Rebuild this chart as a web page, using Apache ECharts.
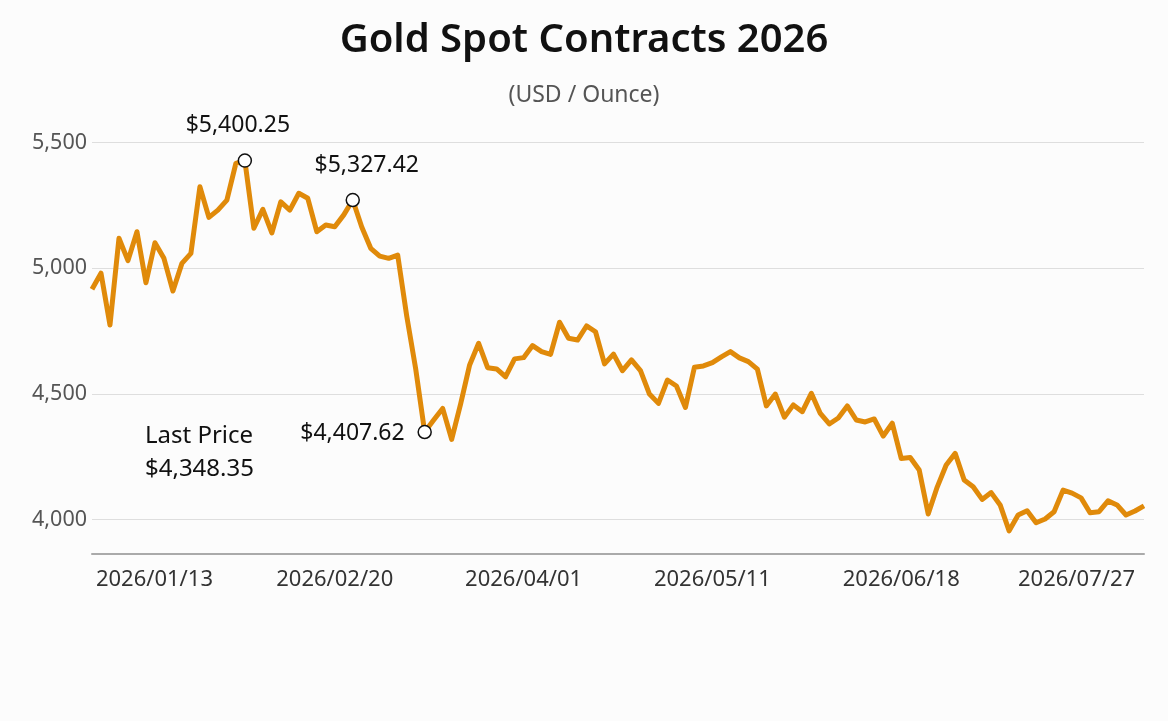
<!DOCTYPE html>
<html>
<head>
<meta charset="utf-8">
<title>Gold Spot Contracts 2026</title>
<script src="https://cdn.jsdelivr.net/npm/echarts@6.0.0/dist/echarts.min.js"></script>
<style>
  html, body { margin: 0; padding: 0; background: #fcfcfc; }
  #container-gold { width: 1168px; height: 721px; }
</style>
</head>
<body>
<div id="container-gold"></div>
<script>
// trading dates (category axis)
const dates = [
  '2026/01/02', '2026/01/04', '2026/01/06', '2026/01/07', '2026/01/09', '2026/01/11', '2026/01/13',
  '2026/01/15', '2026/01/17', '2026/01/18', '2026/01/20', '2026/01/22', '2026/01/24', '2026/01/25',
  '2026/01/27', '2026/01/29', '2026/01/31', '2026/02/01', '2026/02/03', '2026/02/05', '2026/02/07',
  '2026/02/08', '2026/02/10', '2026/02/12', '2026/02/14', '2026/02/16', '2026/02/18', '2026/02/20',
  '2026/02/22', '2026/02/24', '2026/02/26', '2026/02/28', '2026/03/01', '2026/03/03', '2026/03/05',
  '2026/03/07', '2026/03/09', '2026/03/11', '2026/03/13', '2026/03/15', '2026/03/17', '2026/03/18',
  '2026/03/20', '2026/03/22', '2026/03/24', '2026/03/26', '2026/03/28', '2026/03/30', '2026/04/01',
  '2026/04/03', '2026/04/05', '2026/04/07', '2026/04/09', '2026/04/10', '2026/04/12', '2026/04/14',
  '2026/04/16', '2026/04/18', '2026/04/20', '2026/04/22', '2026/04/24', '2026/04/26', '2026/04/28',
  '2026/04/29', '2026/05/01', '2026/05/03', '2026/05/05', '2026/05/07', '2026/05/09', '2026/05/11',
  '2026/05/13', '2026/05/14', '2026/05/16', '2026/05/18', '2026/05/20', '2026/05/22', '2026/05/23',
  '2026/05/25', '2026/05/27', '2026/05/29', '2026/05/31', '2026/06/01', '2026/06/03', '2026/06/05',
  '2026/06/07', '2026/06/08', '2026/06/10', '2026/06/12', '2026/06/14', '2026/06/16', '2026/06/18',
  '2026/06/20', '2026/06/22', '2026/06/23', '2026/06/25', '2026/06/27', '2026/06/29', '2026/07/01',
  '2026/07/02', '2026/07/04', '2026/07/06', '2026/07/08', '2026/07/10', '2026/07/12', '2026/07/13',
  '2026/07/15', '2026/07/17', '2026/07/19', '2026/07/21', '2026/07/23', '2026/07/25', '2026/07/27',
  '2026/07/29', '2026/07/31', '2026/08/02', '2026/08/03', '2026/08/05', '2026/08/07'
];

// spot price, USD / ounce
const prices = [
  4916, 4980, 4774, 5119, 5030, 5145, 4942, 5101, 5039, 4909,
  5019, 5059, 5324, 5202, 5231, 5271, 5417, 5428, 5159, 5234,
  5140, 5264, 5231, 5298, 5278, 5145, 5172, 5165, 5212, 5271,
  5164, 5079, 5048, 5039, 5052, 4810, 4599, 4348, 4396, 4442,
  4319, 4460, 4615, 4701, 4604, 4599, 4568, 4639, 4644, 4692,
  4668, 4657, 4785, 4721, 4714, 4770, 4747, 4619, 4658, 4592,
  4635, 4592, 4499, 4462, 4555, 4531, 4446, 4606, 4611, 4624,
  4647, 4668, 4643, 4628, 4598, 4452, 4499, 4407, 4456, 4429,
  4502, 4422, 4380, 4404, 4452, 4396, 4388, 4400, 4332, 4383,
  4243, 4247, 4197, 4022, 4129, 4217, 4263, 4157, 4130, 4080,
  4107, 4058, 3955, 4018, 4035, 3987, 4002, 4031, 4117, 4105,
  4086, 4027, 4031, 4074, 4058, 4018, 4034, 4054
];

// dates that get an axis label
const tickDates = ['2026/01/13', '2026/02/20', '2026/04/01', '2026/05/11', '2026/06/18', '2026/07/27'];

// annotated points
const noteIndex = [17, 29, 37];
const noteText = ['$5,400.25', '$5,327.42', '$4,407.62'];
const noteOffset = [[-7, -35], [14, -35], [-20, 1]];
const noteAlign = ['center', 'center', 'right'];

const lastPriceText = 'Last Price\n$4,348.35';

const FONT = 'Noto Sans';

let chartDom = document.getElementById('container-gold');
let myChart = echarts.init(chartDom, null, { renderer: 'canvas' });
let option;

option = {
  backgroundColor: '#fcfcfc',
  animation: false,
  textStyle: { fontFamily: FONT },
  title: [
    {
      text: 'Gold Spot Contracts 2026',
      left: 'center',
      top: 16,
      textStyle: { fontFamily: FONT, fontSize: 40, fontWeight: 600, color: '#111' }
    },
    {
      text: '(USD / Ounce)',
      left: 'center',
      top: 79,
      textStyle: { fontFamily: FONT, fontSize: 23, fontWeight: 'normal', color: '#555' }
    }
  ],
  grid: {
    left: 92,
    right: 24,
    top: 142.5,
    bottom: 201.5,
    containLabel: false,
    outerBoundsMode: 'none'
  },
  xAxis: {
    type: 'category',
    boundaryGap: false,
    data: dates,
    offset: 34,
    axisLine: { lineStyle: { color: '#aaaaaa', width: 2 } },
    axisTick: { show: false },
    splitLine: { show: false },
    axisLabel: {
      interval: (idx, value) => tickDates.includes(value),
      hideOverlap: false,
      margin: 15,
      fontFamily: FONT,
      fontSize: 22,
      color: '#333',
      // first and last labels are nudged inwards, as in the source chart
      formatter: (value) => {
        if (value === tickDates[0]) return '{first|' + value + '}';
        if (value === tickDates[tickDates.length - 1]) return '{last|' + value + '}';
        return value;
      },
      rich: {
        first: { fontFamily: FONT, fontSize: 22, color: '#333', padding: [0, 0, 0, 17] },
        last: { fontFamily: FONT, fontSize: 22, color: '#333', padding: [0, 27, 0, 0] }
      }
    }
  },
  yAxis: {
    type: 'value',
    min: 4000,
    max: 5500,
    interval: 500,
    axisLine: { show: false },
    axisTick: { show: false },
    splitLine: { lineStyle: { color: '#dedede', width: 1 } },
    axisLabel: {
      margin: 5,
      padding: [10, 0, 0, 0],
      fontFamily: FONT,
      fontSize: 21.5,
      color: '#555',
      formatter: (v) => v.toLocaleString('en-US')
    }
  },
  graphic: [
    {
      type: 'text',
      left: 145,
      top: 420,
      style: {
        text: lastPriceText,
        font: '24px "Noto Sans"',
        lineHeight: 33,
        fill: '#111'
      }
    }
  ],
  series: [
    {
      name: 'Gold Spot',
      type: 'line',
      data: prices,
      clip: false,
      showSymbol: false,
      color: '#e08a0a',
      lineStyle: { width: 5, color: '#e08a0a', join: 'round' },
      markPoint: {
        symbol: 'circle',
        symbolSize: 13,
        itemStyle: { color: '#ffffff', borderColor: '#111', borderWidth: 1.5 },
        data: noteIndex.map((idx, k) => ({
          coord: [idx, prices[idx]],
          label: {
            show: true,
            position: 'inside',
            formatter: noteText[k],
            align: noteAlign[k],
            offset: noteOffset[k],
            fontFamily: FONT,
            fontSize: 23,
            color: '#111'
          }
        }))
      }
    }
  ]
};

option && myChart.setOption(option);
</script>
</body>
</html>
